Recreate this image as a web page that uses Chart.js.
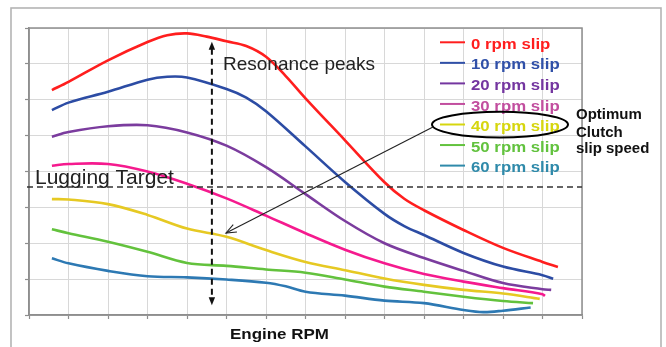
<!DOCTYPE html>
<html><head><meta charset="utf-8">
<script src="https://cdn.jsdelivr.net/npm/chart.js@4.4.1/dist/chart.umd.min.js"></script>
<style>html,body{margin:0;padding:0;background:#fff;overflow:hidden}#wrap{width:666px;height:347px;position:relative}</style>
</head><body><div id="wrap"><canvas id="c" width="666" height="347"></canvas></div>
<script>
// ---- data (axes are unlabeled 0..14 x 0..8 units) ----
const seriesLabels = ['0 rpm slip','10 rpm slip','20 rpm slip','30 rpm slip','40 rpm slip','50 rpm slip','60 rpm slip'];

const slip0X  = [0.58,1,2,3,3.5,4,4.5,5,5.5,6,6.5,7,8,9,9.5,10,11,12,13,13.39];
const slip0Y  = [6.27,6.50,7.10,7.61,7.80,7.85,7.76,7.63,7.50,7.20,6.66,6.04,4.87,3.70,3.24,2.92,2.37,1.87,1.48,1.34];

const slip10X = [0.58,1,2,3,3.5,4,5,5.5,6,7,8,9,9.5,10,11,12,13,13.27];
const slip10Y = [5.71,5.92,6.22,6.56,6.64,6.62,6.30,6.06,5.68,4.70,3.71,2.82,2.48,2.23,1.73,1.35,1.11,1.01];

const slip20X = [0.58,1,2,3,4,5,6,7,8,9,10,11,12,13,13.22];
const slip20Y = [4.97,5.10,5.26,5.29,5.09,4.72,4.12,3.37,2.62,2.00,1.59,1.23,0.89,0.72,0.70];

const slip30X = [0.58,1,2,3,4,5,6,7,8,9,10,11,12,13,13.06];
const slip30Y = [4.16,4.21,4.21,4.00,3.66,3.25,2.77,2.28,1.82,1.44,1.14,0.93,0.75,0.58,0.53];

const slip40X = [0.58,1,2,3,4,5,6,7,8,9,10,11,12,12.93];
const slip40Y = [3.23,3.22,3.09,2.79,2.41,2.18,1.81,1.48,1.25,1.02,0.84,0.70,0.60,0.45];

const slip50X = [0.58,1,2,3,4,5,6,7,8,9,10,11,12,12.76];
const slip50Y = [2.39,2.28,2.04,1.76,1.45,1.37,1.27,1.18,0.99,0.79,0.65,0.51,0.39,0.33];

const slip60X = [0.58,1,2,3,4,5,6,6.5,7,8,9,10,11,11.5,12,12.7];
const slip60Y = [1.58,1.44,1.23,1.08,1.05,0.99,0.90,0.80,0.65,0.54,0.40,0.33,0.14,0.08,0.12,0.21];

const xTickRange = [0, 14];
const yTickRange = [0, 8];
const luggingTargetY = 3.57;
const resonanceX = 4.63;
const resonanceSpan = [0.27, 7.62];

// ---- styles ----
const lineColors = ['#FF1E1E','#2C4CA4','#7B3C9E','#F51A8E','#E6C923','#63C23D','#2D79B3'];
const legendTextColors = ['#FF1E1E','#3050A8','#7436A0','#C24E9F','#D6D60E','#62C23E','#2F8AAA'];
const FONT = '"Liberation Sans", Arial, sans-serif';

const xs = [slip0X,slip10X,slip20X,slip30X,slip40X,slip50X,slip60X];
const ys = [slip0Y,slip10Y,slip20Y,slip30Y,slip40Y,slip50Y,slip60Y];

const datasets = seriesLabels.map((lab,i)=>({
  label: lab,
  data: xs[i].map((x,j)=>({x:x, y:ys[i][j]})),
  borderColor: lineColors[i],
  borderWidth: 2.6,
  pointRadius: 0,
  fill: false,
  tension: 0.35,
  cubicInterpolationMode: 'default'
}));

function txt(ctx, s, x, y, font, color, sx){
  ctx.save(); ctx.translate(x,y); ctx.scale(sx||1,1);
  ctx.font = font; ctx.fillStyle = color; ctx.textBaseline = 'alphabetic'; ctx.textAlign='left';
  ctx.fillText(s,0,0); ctx.restore();
}
function arrowHeadFilled(ctx, x, y, dir){ // dir: -1 up, 1 down
  ctx.beginPath(); ctx.moveTo(x, y); ctx.lineTo(x-3.2, y - dir*8); ctx.lineTo(x+3.2, y - dir*8); ctx.closePath(); ctx.fill();
}

const deco = {
  id: 'deco',
  beforeDraw(chart){
    const ctx = chart.ctx;
    ctx.save();
    ctx.fillStyle = '#fff'; ctx.fillRect(0,0,chart.width,chart.height);
    ctx.strokeStyle = '#B4B4B4'; ctx.lineWidth = 1.6;
    ctx.strokeRect(11, 8, 650, 400);
    ctx.restore();
  },
  beforeDatasetsDraw(chart){
    const {ctx, chartArea:a} = chart;
    ctx.save();
    ctx.strokeStyle = '#8E8E8E'; ctx.lineWidth = 1.5;
    ctx.strokeRect(a.left, a.top, a.right-a.left, a.bottom-a.top);
    ctx.restore();
  },
  afterDatasetsDraw(chart){
    const {ctx, chartArea:a, scales:{x,y}} = chart;
    ctx.save();
    const ly = y.getPixelForValue(luggingTargetY);
    ctx.strokeStyle = '#333'; ctx.lineWidth = 1.5; ctx.setLineDash([6,4]);
    ctx.beginPath(); ctx.moveTo(a.left-2, ly); ctx.lineTo(a.right, ly); ctx.stroke();
    const rx = x.getPixelForValue(resonanceX);
    const rTop = y.getPixelForValue(resonanceSpan[1]);
    const rBot = y.getPixelForValue(resonanceSpan[0]);
    ctx.strokeStyle = '#111'; ctx.lineWidth = 2; ctx.setLineDash([6,4]);
    ctx.beginPath(); ctx.moveTo(rx, rTop+7); ctx.lineTo(rx, rBot-7); ctx.stroke();
    ctx.setLineDash([]); ctx.fillStyle = '#111';
    arrowHeadFilled(ctx, rx, rTop, -1);
    arrowHeadFilled(ctx, rx, rBot, 1);
    ctx.restore();
  },
  afterDraw(chart){
    const {ctx} = chart;
    ctx.save();
    for(let i=0;i<seriesLabels.length;i++){
      const cy = 43.3 + i*20.55;
      ctx.strokeStyle = legendTextColors[i]; ctx.lineWidth = 2;
      ctx.beginPath(); ctx.moveTo(440, cy-1); ctx.lineTo(465, cy-1); ctx.stroke();
      txt(ctx, seriesLabels[i], 471, cy+5.6, 'bold 15px '+FONT, legendTextColors[i], 1.12);
    }
    ctx.strokeStyle = '#000'; ctx.lineWidth = 2;
    ctx.beginPath(); ctx.ellipse(500, 124.6, 68, 12.8, 0, 0, Math.PI*2); ctx.stroke();
    const tipX = 226, tipY = 233;
    const sX = 433, sY = 127;
    ctx.lineWidth = 1.1; ctx.strokeStyle = '#222';
    ctx.beginPath(); ctx.moveTo(sX, sY); ctx.lineTo(tipX, tipY); ctx.stroke();
    const ang = Math.atan2(sY - tipY, sX - tipX);
    ctx.beginPath();
    ctx.moveTo(tipX + 11*Math.cos(ang+0.38), tipY + 11*Math.sin(ang+0.38));
    ctx.lineTo(tipX, tipY);
    ctx.lineTo(tipX + 11*Math.cos(ang-0.38), tipY + 11*Math.sin(ang-0.38));
    ctx.stroke();
    txt(ctx, 'Optimum', 576, 119, 'bold 15px '+FONT, '#111', 1.0);
    txt(ctx, 'Clutch', 576, 136.5, 'bold 15px '+FONT, '#111', 1.0);
    txt(ctx, 'slip speed', 576, 153, 'bold 15px '+FONT, '#111', 1.0);
    txt(ctx, 'Resonance peaks', 223, 70, '19px '+FONT, '#222', 1.0);
    txt(ctx, 'Lugging Target', 35, 183.5, '21px '+FONT, '#222', 1.0);
    txt(ctx, 'Engine RPM', 230, 339, 'bold 15px '+FONT, '#111', 1.13);
    ctx.restore();
  }
};

new Chart(document.getElementById('c'), {
  type: 'line',
  data: { datasets },
  options: {
    responsive: false,
    devicePixelRatio: 1,
    animation: false,
    layout: { padding: { left: 25, top: 28, right: 84, bottom: 28 } },
    plugins: { legend: { display: false }, tooltip: { enabled: false } },
    scales: {
      x: {
        type: 'linear', min: xTickRange[0], max: xTickRange[1],
        ticks: { display: false, stepSize: 1 },
        grid: { color: '#D8D8D8', lineWidth: 1, tickLength: 4, tickColor: '#8E8E8E', tickWidth: 1.2 },
        border: { color: '#8E8E8E', width: 1.5 }
      },
      y: {
        type: 'linear', min: yTickRange[0], max: yTickRange[1],
        ticks: { display: false, stepSize: 1 },
        grid: { color: '#D8D8D8', lineWidth: 1, tickLength: 4, tickColor: '#8E8E8E', tickWidth: 1.2 },
        border: { color: '#8E8E8E', width: 1.5 }
      }
    }
  },
  plugins: [deco]
});
</script></body></html>
